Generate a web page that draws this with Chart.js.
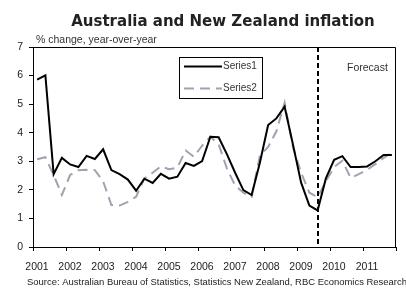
<!DOCTYPE html>
<html>
<head>
<meta charset="utf-8">
<script src="https://cdn.jsdelivr.net/npm/chart.js@4"></script>
<style>
  html, body { margin: 0; padding: 0; background: #fff; }
  canvas { display: block; }
</style>
</head>
<body>
<canvas id="inflationChart" width="406" height="288"></canvas>
<script>
const quarters = [
    '2001Q1','2001Q2','2001Q3','2001Q4','2002Q1','2002Q2','2002Q3','2002Q4',
    '2003Q1','2003Q2','2003Q3','2003Q4','2004Q1','2004Q2','2004Q3','2004Q4',
    '2005Q1','2005Q2','2005Q3','2005Q4','2006Q1','2006Q2','2006Q3','2006Q4',
    '2007Q1','2007Q2','2007Q3','2007Q4','2008Q1','2008Q2','2008Q3','2008Q4',
    '2009Q1','2009Q2','2009Q3','2009Q4','2010Q1','2010Q2','2010Q3','2010Q4',
    '2011Q1','2011Q2','2011Q3','2011Q4'
];
const series1 = [
    5.86, 6.01, 2.55, 3.12, 2.89, 2.80, 3.19, 3.08,
    3.42, 2.69, 2.55, 2.36, 1.97, 2.39, 2.24, 2.56,
    2.39, 2.46, 2.94, 2.84, 3.01, 3.86, 3.84, 3.25,
    2.60, 1.99, 1.82, 2.95, 4.27, 4.50, 4.91, 3.60,
    2.25, 1.45, 1.28, 2.40, 3.05, 3.18, 2.80, 2.80,
    2.82, 3.00, 3.22, 3.22
];
const series2 = [
    3.07, 3.14, 2.52, 1.82, 2.52, 2.69, 2.70, 2.69,
    2.30, 1.47, 1.45, 1.58, 1.76, 2.40, 2.60, 2.82,
    2.72, 2.78, 3.38, 3.16, 3.55, 3.86, 3.60, 2.75,
    2.15, 1.90, 1.76, 3.20, 3.50, 4.05, 5.05, 3.50,
    2.60, 1.90, 1.75, 2.30, 2.80, 3.02, 2.42, 2.55,
    2.70, 2.90, 3.12, 3.30
];
const yearLabels = [2001, 2002, 2003, 2004, 2005, 2006, 2007, 2008, 2009, 2010, 2011, 2012];
const yTicks = [0, 1, 2, 3, 4, 5, 6, 7];
const forecastFrom = '2009Q3';

// quarter label -> position on the year axis (middle of the quarter)
function quarterPos(q) {
    return parseInt(q.slice(0, 4)) + (parseInt(q.slice(5)) - 0.5) / 4;
}
function toPoints(values) {
    return values.map((v, i) => ({ x: quarterPos(quarters[i]), y: v }));
}

const extras = {
    id: 'extras',
    afterDraw(chart) {
        const ctx = chart.ctx;
        const area = chart.chartArea;
        const xs = chart.scales.x;
        ctx.save();

        // frame top/right
        ctx.strokeStyle = '#000';
        ctx.lineWidth = 1;
        ctx.beginPath();
        ctx.moveTo(area.left, area.top + 0.5);
        ctx.lineTo(area.right - 0.5, area.top + 0.5);
        ctx.lineTo(area.right - 0.5, area.bottom);
        ctx.stroke();

        // forecast divider
        const fx = Math.round(xs.getPixelForValue(quarterPos(forecastFrom)));
        ctx.lineWidth = 2;
        ctx.setLineDash([5, 3]);
        ctx.beginPath();
        ctx.moveTo(fx, area.top);
        ctx.lineTo(fx, area.bottom);
        ctx.stroke();
        ctx.setLineDash([]);

        // texts
        ctx.fillStyle = '#222';
        ctx.textBaseline = 'alphabetic';
        ctx.textAlign = 'center';
        ctx.font = '600 15px "DejaVu Sans"';
        ctx.fillText('Australia and New Zealand inflation', 223, 26, 314);

        ctx.textAlign = 'left';
        ctx.font = '10.5px "Liberation Sans"';
        ctx.fillStyle = '#333';
        ctx.fillText('% change, year-over-year', 36, 43, 127);
        ctx.font = '10.5px "Liberation Sans"';
        ctx.fillText('Forecast', 347, 71, 43);

        ctx.font = '9.5px "Liberation Sans"';
        ctx.fillStyle = '#222';
        ctx.fillText('Source: Australian Bureau of Statistics, Statistics New Zealand, RBC Economics Research', 27, 285, 380);

        // legend box
        const lx = 179.5, ly = 57.5, lw = 83, lh = 41;
        ctx.fillStyle = '#fff';
        ctx.fillRect(lx, ly, lw, lh);
        ctx.strokeStyle = '#000';
        ctx.lineWidth = 1;
        ctx.strokeRect(lx, ly, lw, lh);
        chart.data.datasets.forEach((ds, i) => {
            const y = i === 0 ? 66.5 : 88.5;
            ctx.strokeStyle = ds.borderColor;
            ctx.lineWidth = 2;
            ctx.setLineDash(ds.borderDash || []);
            ctx.beginPath();
            ctx.moveTo(184, y);
            ctx.lineTo(222, y);
            ctx.stroke();
            ctx.setLineDash([]);
            ctx.fillStyle = '#333';
            ctx.font = '10px "Liberation Sans"';
            ctx.textBaseline = 'middle';
            ctx.fillText(ds.label, 223, y, 36);
        });
        ctx.restore();
    }
};

const inflationCtx = document.getElementById('inflationChart').getContext('2d');
new Chart(inflationCtx, {
    type: 'line',
    data: {
        datasets: [{
            label: 'Series1',
            data: toPoints(series1),
            borderColor: '#000000',
            borderWidth: 2,
            pointRadius: 0,
            tension: 0,
            fill: false
        }, {
            label: 'Series2',
            data: toPoints(series2),
            borderColor: '#9ea3b0',
            borderWidth: 2,
            borderDash: [10, 6],
            pointRadius: 0,
            tension: 0,
            fill: false
        }]
    },
    options: {
        responsive: false,
        animation: false,
        layout: { padding: { top: 47, right: 6, left: 0, bottom: 0 } },
        plugins: {
            legend: { display: false },
            title: { display: false },
            tooltip: { enabled: false }
        },
        scales: {
            x: {
                type: 'linear',
                min: yearLabels[0],
                max: yearLabels[yearLabels.length - 1],
                afterBuildTicks: (axis) => { axis.ticks = yearLabels.map(v => ({ value: v })); },
                afterFit: (axis) => { axis.height = 41; },
                ticks: {
                    callback: (v) => v === yearLabels[yearLabels.length - 1] ? '' : String(v),
                    autoSkip: false,
                    maxRotation: 0,
                    labelOffset: 4,
                    padding: 10,
                    color: '#222',
                    font: { family: 'Liberation Sans', size: 10.5 }
                },
                grid: { drawOnChartArea: false, tickLength: 4, color: '#000', tickColor: '#000' },
                border: { display: true, color: '#000', width: 1 }
            },
            y: {
                min: yTicks[0],
                max: yTicks[yTicks.length - 1],
                afterBuildTicks: (axis) => { axis.ticks = yTicks.map(v => ({ value: v })); },
                afterFit: (axis) => { axis.width = 33; },
                ticks: {
                    padding: 6,
                    color: '#222',
                    font: { family: 'Liberation Sans', size: 10.5 }
                },
                grid: { drawOnChartArea: false, tickLength: 4, color: '#000', tickColor: '#000' },
                border: { display: true, color: '#000', width: 1 }
            }
        }
    },
    plugins: [extras]
});
</script>
</body>
</html>
